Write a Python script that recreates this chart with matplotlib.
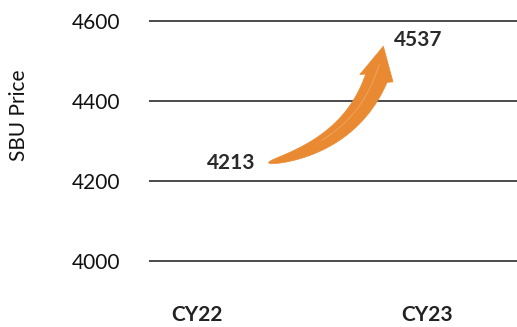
import numpy as np
import matplotlib.pyplot as plt
from matplotlib.patches import Polygon

plt.rcParams['font.family'] = ['Lato', 'DejaVu Sans']

years = ['CY22', 'CY23']
prices = [4213, 4537]
yticks = [4000, 4200, 4400, 4600]

fig = plt.figure(figsize=(5.17, 3.27), dpi=100)
ax = fig.add_axes([149 / 517, 1 - 301 / 327, 368 / 517, 300 / 327])

ax.set_ylim(3900, 4650)
ax.set_xlim(-0.209, 1.391)
ax.set_yticks(yticks)
ax.set_xticks(range(len(years)))
ax.set_xticklabels(years, fontweight='bold', fontsize=15, color='#222222')
ax.tick_params(axis='y', length=0, pad=21, labelsize=15, labelcolor='#111111')
ax.tick_params(axis='x', length=0, pad=3)
ax.yaxis.grid(True, color='#1a1a1a', linewidth=1.1)
ax.set_axisbelow(True)
for s in ax.spines.values():
    s.set_visible(False)


def growth_arrow(ax, start, end, color):
    # tapered curved arrow, built in pixel space then mapped back to data
    to_px = ax.transData.transform
    tail = to_px(start) + np.array([0, 13])
    tip = to_px(end)
    base = tip + np.array([-7, -32])
    ctrl = tail + np.array([82, 18])

    t = np.linspace(0, 1, 80)[:, None]
    pts = (1 - t) ** 2 * tail + 2 * t * (1 - t) * ctrl + t ** 2 * base
    d = 2 * (1 - t) * (ctrl - tail) + 2 * t * (base - ctrl)
    d /= np.linalg.norm(d, axis=1, keepdims=True)
    nrm = np.column_stack([-d[:, 1], d[:, 0]])
    w = 11.5 * t ** 0.5
    left = pts + nrm * w
    right = pts - nrm * w

    hd = (tip - base) / np.linalg.norm(tip - base)
    hn = np.array([-hd[1], hd[0]])
    head = [base + hn * 17, tip, base - hn * 17]

    outline = np.vstack([left, head, right[::-1]])
    outline = ax.transData.inverted().transform(outline)
    ax.add_patch(Polygon(outline, closed=True, facecolor=color, edgecolor=color,
                         linewidth=0.5, zorder=3))

    # faint highlight down the middle of the shaft
    sheen = np.vstack([pts[30:] + nrm[30:] * 2, base + hd * 14])
    sheen = ax.transData.inverted().transform(sheen)
    ax.plot(sheen[:, 0], sheen[:, 1], color='#F4C8A0', lw=0.4, alpha=0.7, zorder=4)


growth_arrow(ax, (0.31, prices[0]), (0.81, prices[1]), '#E98A33')

ax.text(0.15, prices[0] + 32, f'{prices[0]}', ha='center', va='center',
        fontsize=15, fontweight='bold', color='#2a2a2a')
ax.text(0.96, prices[1] + 15, f'{prices[1]}', ha='center', va='center',
        fontsize=15, fontweight='bold', color='#2a2a2a')

fig.text(19 / 517, 1 - 115 / 327, 'SBU Price', rotation=90, ha='center', va='center',
         fontsize=15, color='#111111')

fig.savefig('out.png', dpi=100)
